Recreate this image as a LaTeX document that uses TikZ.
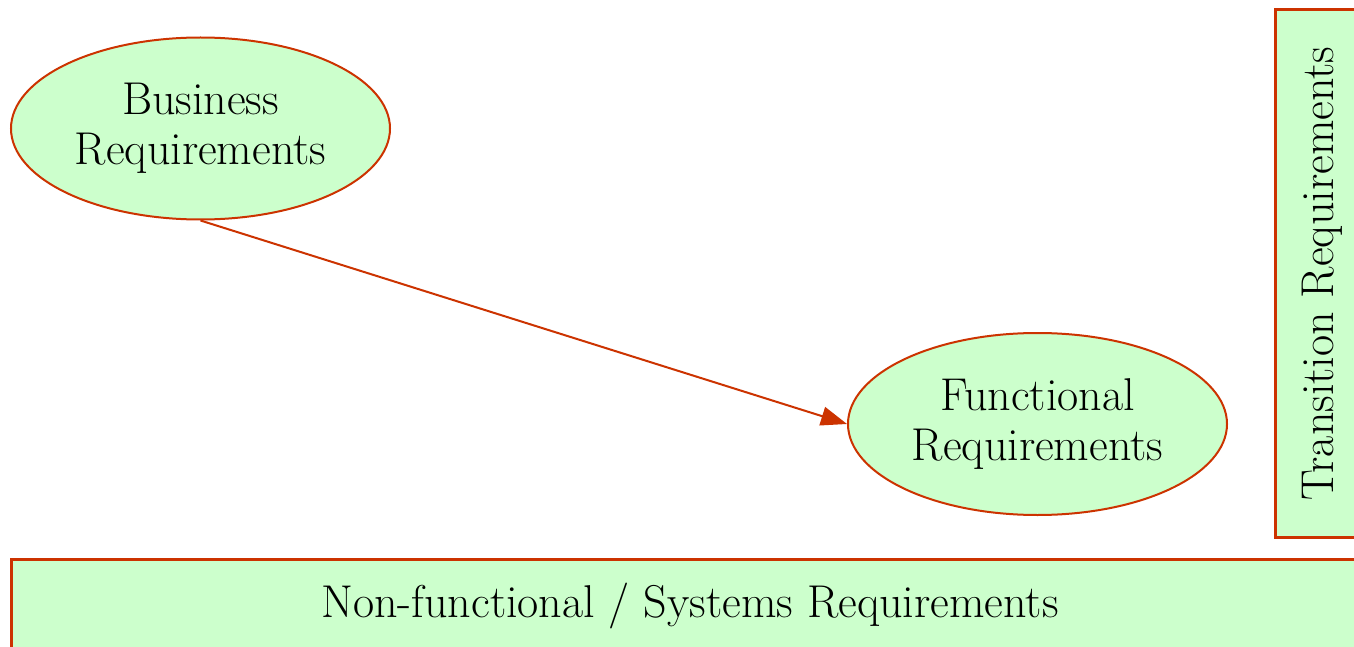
\documentclass[tikz,border=0pt]{standalone}
\usetikzlibrary{shapes.geometric,arrows.meta}
\definecolor{rqfill}{HTML}{CCFFCC}
\definecolor{rqline}{HTML}{CC3300}
\tikzset{
  rqfont/.style={font=\fontsize{46}{50}\selectfont},
  rqell/.style={ellipse, draw=rqline, fill=rqfill, line width=2pt, minimum width=379pt, minimum height=182pt, inner sep=0pt, align=center, rqfont},
  rqbox/.style={rectangle, draw=rqline, fill=rqfill, line width=3pt, inner sep=0pt, align=center, rqfont},
  rqarrow/.style={draw=rqline, line width=2pt, -{Triangle[length=26pt,width=19pt]}}
}
\begin{document}
\begin{tikzpicture}[x=1pt,y=-1pt]
\clip (0,0) rectangle (1354,647);
\fill[white] (0,0) rectangle (1354,647);
\node[rqell] (b) at (200.5,128.5) {Business\\Requirements};
\node[rqell] (f) at (1037.5,424) {Functional\\Requirements};
\node[rqbox, minimum width=96pt, minimum height=527pt] (t) at (1323,273.5) {};
\node[rotate=90, rqfont] (tl) at ([xshift=-1pt]t.center) {Transition Requirements};
\node[rqbox, minimum width=1358pt, minimum height=94pt] (n) at (690,606) {Non-functional / Systems Requirements};
\draw[rqarrow] (b.south) -- (f.west);
\end{tikzpicture}
\end{document}
